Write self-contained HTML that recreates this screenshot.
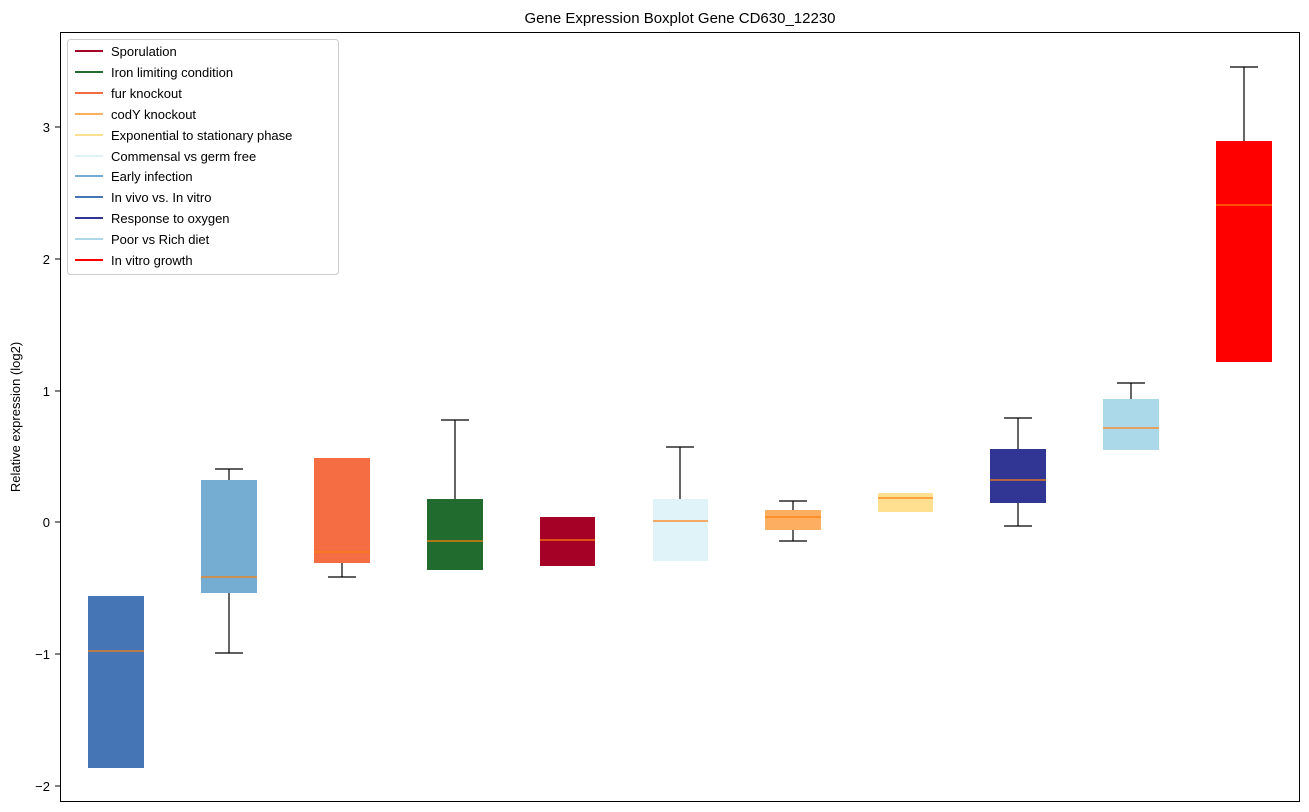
<!DOCTYPE html>
<html><head><meta charset="utf-8"><style>
html,body{margin:0;padding:0;background:#fff;}
svg{display:block;font-family:"Liberation Sans","DejaVu Sans",sans-serif;}
</style></head><body>
<svg width="1309" height="812" viewBox="0 0 1309 812" xmlns="http://www.w3.org/2000/svg">
<rect width="1309" height="812" fill="#fff"/>
<text x="680" y="23" font-size="15" text-anchor="middle" fill="#000">Gene Expression Boxplot Gene CD630_12230</text>
<text transform="translate(20,417) rotate(-90)" font-size="13" text-anchor="middle" fill="#000">Relative expression (log2)</text>
<g font-size="13" fill="#000" text-anchor="end">
<line x1="55" y1="127" x2="60" y2="127" stroke="#000"/><text x="50" y="132">3</text>
<line x1="55" y1="259" x2="60" y2="259" stroke="#000"/><text x="50" y="264">2</text>
<line x1="55" y1="391" x2="60" y2="391" stroke="#000"/><text x="50" y="396">1</text>
<line x1="55" y1="522" x2="60" y2="522" stroke="#000"/><text x="50" y="527">0</text>
<line x1="55" y1="654" x2="60" y2="654" stroke="#000"/><text x="50" y="659">−1</text>
<line x1="55" y1="786" x2="60" y2="786" stroke="#000"/><text x="50" y="791">−2</text>
</g>
<g stroke="#000" stroke-width="1.2" fill="none">
<line x1="229" y1="480" x2="229" y2="469"/><line x1="215" y1="469" x2="243" y2="469"/>
<line x1="229" y1="593" x2="229" y2="653"/><line x1="215" y1="653" x2="243" y2="653"/>
<line x1="342" y1="563" x2="342" y2="577"/><line x1="328" y1="577" x2="356" y2="577"/>
<line x1="455" y1="499" x2="455" y2="420"/><line x1="441" y1="420" x2="469" y2="420"/>
<line x1="680" y1="499" x2="680" y2="447"/><line x1="666" y1="447" x2="694" y2="447"/>
<line x1="793" y1="510" x2="793" y2="501"/><line x1="779" y1="501" x2="807" y2="501"/>
<line x1="793" y1="530" x2="793" y2="541"/><line x1="779" y1="541" x2="807" y2="541"/>
<line x1="1018" y1="449" x2="1018" y2="418"/><line x1="1004" y1="418" x2="1032" y2="418"/>
<line x1="1018" y1="503" x2="1018" y2="526"/><line x1="1004" y1="526" x2="1032" y2="526"/>
<line x1="1131" y1="399" x2="1131" y2="383"/><line x1="1117" y1="383" x2="1145" y2="383"/>
<line x1="1244" y1="141" x2="1244" y2="67"/><line x1="1230" y1="67" x2="1258" y2="67"/>
</g>
<g>
<rect x="88" y="596" width="56" height="172" fill="#4575b4"/>
<rect x="201" y="480" width="56" height="113" fill="#74add1"/>
<rect x="314" y="458" width="56" height="105" fill="#f46d43"/>
<rect x="427" y="499" width="56" height="71" fill="#216b2e"/>
<rect x="540" y="517" width="55" height="49" fill="#a50026"/>
<rect x="653" y="499" width="55" height="62" fill="#e0f3f8"/>
<rect x="765" y="510" width="56" height="20" fill="#fdae61"/>
<rect x="878" y="493" width="55" height="19" fill="#fee090"/>
<rect x="990" y="449" width="56" height="54" fill="#313695"/>
<rect x="1103" y="399" width="56" height="51" fill="#abd9e9"/>
<rect x="1216" y="141" width="56" height="221" fill="#ff0000"/>
</g>
<g stroke="#ff7f0e" stroke-width="1.2">
<line x1="88" y1="651" x2="144" y2="651"/>
<line x1="201" y1="577" x2="257" y2="577"/>
<line x1="314" y1="552" x2="370" y2="552"/>
<line x1="427" y1="541" x2="483" y2="541"/>
<line x1="540" y1="540" x2="595" y2="540"/>
<line x1="653" y1="521" x2="708" y2="521"/>
<line x1="765" y1="517" x2="821" y2="517"/>
<line x1="878" y1="498" x2="933" y2="498"/>
<line x1="990" y1="480" x2="1046" y2="480"/>
<line x1="1103" y1="428" x2="1159" y2="428"/>
<line x1="1216" y1="205" x2="1272" y2="205"/>
</g>
<rect x="60.5" y="32.5" width="1239" height="769" fill="none" stroke="#000" stroke-width="1"/>
<rect x="67.5" y="39.5" width="271" height="235" fill="#fff" fill-opacity="0.8" stroke="#ccc" rx="3"/>
<g stroke-width="2">
<line x1="75" y1="51" x2="103" y2="51" stroke="#a50026"/>
<line x1="75" y1="72" x2="103" y2="72" stroke="#216b2e"/>
<line x1="75" y1="93" x2="103" y2="93" stroke="#f46d43"/>
<line x1="75" y1="114" x2="103" y2="114" stroke="#fdae61"/>
<line x1="75" y1="135" x2="103" y2="135" stroke="#fee090"/>
<line x1="75" y1="156" x2="103" y2="156" stroke="#e0f3f8"/>
<line x1="75" y1="176" x2="103" y2="176" stroke="#74add1"/>
<line x1="75" y1="197" x2="103" y2="197" stroke="#4575b4"/>
<line x1="75" y1="218" x2="103" y2="218" stroke="#313695"/>
<line x1="75" y1="239" x2="103" y2="239" stroke="#abd9e9"/>
<line x1="75" y1="260" x2="103" y2="260" stroke="#ff0000"/>
</g>
<g font-size="13" fill="#000">
<text x="111" y="56">Sporulation</text>
<text x="111" y="77">Iron limiting condition</text>
<text x="111" y="98">fur knockout</text>
<text x="111" y="119">codY knockout</text>
<text x="111" y="140">Exponential to stationary phase</text>
<text x="111" y="161">Commensal vs germ free</text>
<text x="111" y="181">Early infection</text>
<text x="111" y="202">In vivo vs. In vitro</text>
<text x="111" y="223">Response to oxygen</text>
<text x="111" y="244">Poor vs Rich diet</text>
<text x="111" y="265">In vitro growth</text>
</g>
</svg>
</body></html>
